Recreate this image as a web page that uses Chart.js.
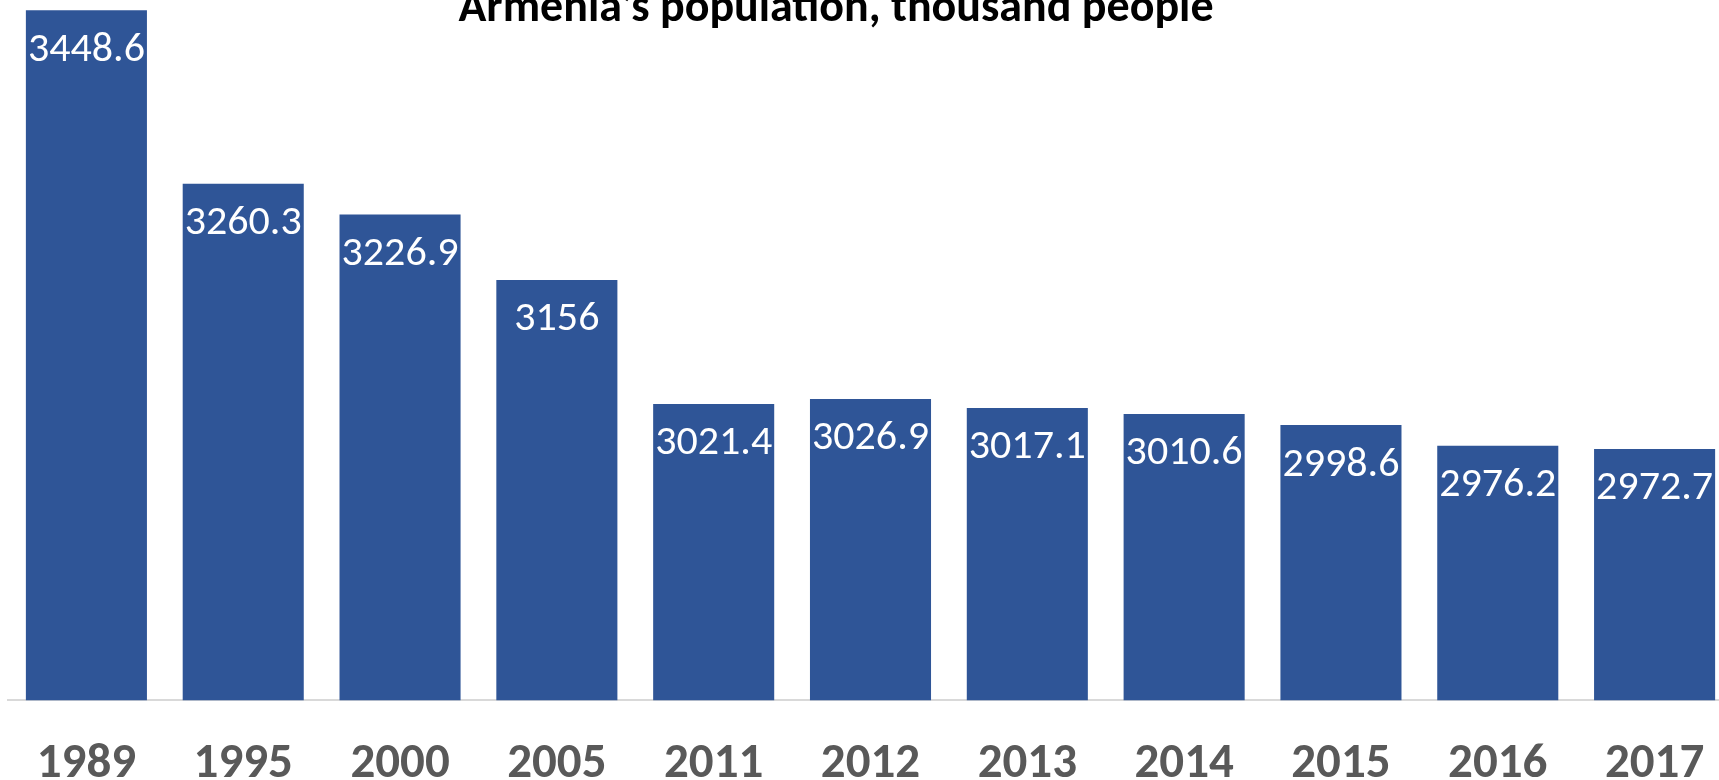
<!DOCTYPE html>
<html>
<head>
<meta charset="utf-8">
<script src="https://cdn.jsdelivr.net/npm/chart.js@4.4.1/dist/chart.umd.min.js"></script>
<style>
  html, body { margin: 0; padding: 0; background: #fff; }
  #wrap { position: relative; width: 1719px; height: 780px; overflow: hidden; }
  #box { position: absolute; left: 0; top: 0; width: 1740px; height: 842px; }
</style>
</head>
<body>
<div id="wrap"><div id="box"><canvas id="popChart"></canvas></div></div>
<script>
document.addEventListener("DOMContentLoaded", function() {

const years = ["1989", "1995", "2000", "2005", "2011", "2012", "2013", "2014", "2015", "2016", "2017"];
const population = [3448.6, 3260.3, 3226.9, 3156, 3021.4, 3026.9, 3017.1, 3010.6, 2998.6, 2976.2, 2972.7];
const chartTitle = "Armenia\u2019s population, thousand people";

// value labels inside the top of each bar
const barLabels = {
  id: 'barLabels',
  afterDatasetsDraw(chart) {
    const ctx = chart.ctx;
    const meta = chart.getDatasetMeta(0);
    ctx.save();
    ctx.fillStyle = '#ffffff';
    ctx.font = '42px Carlito, "Open Sans", sans-serif';
    ctx.textAlign = 'center';
    ctx.textBaseline = 'middle';
    meta.data.forEach((bar, i) => {
      ctx.fillText(String(population[i]), bar.x, bar.y + 40);
    });
    ctx.restore();
  }
};

// title sits over the top of the plot
const topTitle = {
  id: 'topTitle',
  afterDraw(chart) {
    const ctx = chart.ctx;
    ctx.save();
    ctx.fillStyle = '#000000';
    ctx.font = 'bold 46px Carlito, "Open Sans", sans-serif';
    ctx.textAlign = 'center';
    ctx.textBaseline = 'alphabetic';
    ctx.fillText(chartTitle, 836, 21);
    ctx.restore();
  }
};

var ctx = document.getElementById('popChart').getContext('2d');

var myChart = new Chart(ctx, {
  type: 'bar',
  data: {
    labels: years,
    datasets: [{
      data: population,
      backgroundColor: '#2F5597',
      borderWidth: 0,
      categoryPercentage: 0.772,
      barPercentage: 1.0
    }]
  },
  options: {
    responsive: true,
    maintainAspectRatio: false,
    animation: false,
    layout: { padding: { left: 8, right: 7, top: 9, bottom: 13 } },
    plugins: {
      legend: { display: false },
      tooltip: { enabled: false },
      title: { display: false }
    },
    scales: {
      x: {
        grid: { display: false, drawTicks: false },
        border: { display: true, color: '#d9d9d9', width: 2 },
        ticks: {
          color: '#595959',
          padding: 35,
          font: { family: 'Carlito, "Open Sans", sans-serif', size: 49, weight: 'bold' }
        }
      },
      y: {
        display: false,
        min: 2700,
        max: 3450
      }
    }
  },
  plugins: [barLabels, topTitle]
});

});
</script>
</body>
</html>
